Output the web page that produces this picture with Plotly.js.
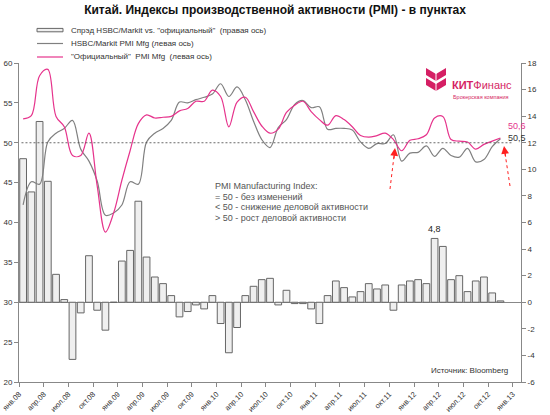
<!DOCTYPE html>
<html>
<head>
<meta charset="utf-8">
<script src="https://cdn.plot.ly/plotly-3.0.1.min.js"></script>
<style>html,body{margin:0;padding:0;background:#fff;}#chart{width:550px;height:415px;}</style>
</head>
<body>
<div id="chart"></div>
<script>
// ---- data (monthly, Jan 2008 .. Nov 2012) ----
const officialPMI = [
  53.0,53.4,58.4,59.2,53.3,52.0,48.4,48.4,51.2,44.6,38.8,41.2,
  45.3,49.0,52.4,53.5,53.1,53.2,53.3,54.0,54.3,55.2,55.2,56.6,
  55.8,52.0,55.1,55.7,53.9,52.1,51.2,51.7,53.8,54.7,55.2,53.9,
  52.9,52.2,53.4,52.9,52.0,50.9,50.7,50.9,51.2,50.4,49.0,50.3,
  50.5,51.0,53.1,53.3,50.4,50.2,50.1,49.2,49.8,50.2,50.6
];
const hsbcPMI = [
  42.2,45.1,44.8,50.1,51.2,51.8,52.8,49.2,47.7,45.2,40.9,41.2,
  42.2,45.1,44.8,50.1,51.2,51.8,52.8,55.1,55.0,55.4,55.7,56.1,
  57.4,55.8,57.0,55.4,52.7,50.4,49.4,51.9,52.9,54.8,55.3,54.4,
  54.5,51.7,51.8,51.8,51.6,50.1,49.3,49.9,49.9,51.0,47.7,48.7,
  48.8,49.6,48.3,49.3,48.4,48.2,49.3,47.6,47.9,49.5,50.5
];
const spread = [
  10.8,8.3,13.6,9.1,2.1,0.2,-4.3,-0.8,3.5,-0.6,-2.1,0.0,
  3.1,3.9,7.6,3.4,1.9,1.4,0.5,-1.1,-0.7,-0.2,-0.5,0.5,
  -1.6,-3.8,-1.9,0.5,1.2,1.7,1.8,-0.2,0.9,-0.1,-0.1,-0.5,
  -1.6,0.5,1.6,1.1,0.4,0.8,1.4,1.0,1.3,-0.6,1.3,1.6,
  1.7,1.4,4.8,4.2,1.7,2.0,0.8,1.6,1.9,0.7,0.1
];
const xTickLabels = [
  "янв.08","апр.08","июл.08","окт.08","янв.09","апр.09","июл.09","окт.09",
  "янв.10","апр.10","июл.10","окт.10","янв.11","апр.11","июл.11","окт.11",
  "янв.12","апр.12","июл.12","окт.12","янв.13"
];
const leftTicks = [20,25,30,35,40,45,50,55,60];
const rightTicks = [-6,-4,-2,0,2,4,6,8,10,12,14,16,18];
const legendNames = [
  'Спрэд HSBC/Markit vs. "официальный"  (правая ось)',
  'HSBC/Markit PMI Mfg (левая ось)',
  '"Официальный"  PMI Mfg  (левая ось)'
];
const noteLines = [
  "PMI Manufacturing Index:",
  "= 50 - без изменений",
  "< 50 - снижение деловой активности",
  "> 50 - рост деловой активности"
];
const threshold = 50;

// ---- styling / helpers ----
const FONT = "Liberation Sans, Arial, sans-serif";
const PINK = "#E6338C", GREY = "#808080", LOGO = "#D51F64";
const W = 550, H = 415, M = {l:19, r:29, t:63, b:33};
const fx = p => (p - M.l) / (W - M.l - M.r);
const fy = p => (H - M.b - p) / (H - M.t - M.b);
const fmt = v => v.toFixed(1).replace(".", ",");
const xs = officialPMI.map((_, i) => i + 0.5);
const last = officialPMI.length - 1;

const traces = [
  {type:"bar", x:xs, y:spread, yaxis:"y", width:0.82,
   marker:{color:"#EFEFEF", line:{color:"#666", width:1}}, showlegend:false, hoverinfo:"skip"},
  {type:"scatter", mode:"lines", x:xs, y:hsbcPMI, yaxis:"y2",
   line:{color:GREY, width:1.2, shape:"spline", smoothing:1}, showlegend:false},
  {type:"scatter", mode:"lines", x:xs, y:officialPMI, yaxis:"y2",
   line:{color:PINK, width:1.2, shape:"spline", smoothing:1}, showlegend:false}
];

const shapes = [
  {type:"line", xref:"x", yref:"y2", x0:0.3, x1:60, y0:threshold, y1:threshold,
   line:{color:"#444", width:0.8, dash:"2px,2px"}},
  // legend symbols
  {type:"rect", xref:"paper", yref:"paper", x0:fx(37), x1:fx(63), y0:fy(31.8), y1:fy(28.4),
   fillcolor:"#EFEFEF", line:{color:"#666", width:1}},
  {type:"line", xref:"paper", yref:"paper", x0:fx(37), x1:fx(63), y0:fy(43.5), y1:fy(43.5),
   line:{color:GREY, width:1.2}},
  {type:"line", xref:"paper", yref:"paper", x0:fx(37), x1:fx(63), y0:fy(57), y1:fy(57),
   line:{color:PINK, width:1.2}},
  // red dotted arrows
  {type:"line", xref:"paper", yref:"paper", x0:fx(390), y0:fy(189), x1:fx(394.5), y1:fy(152),
   line:{color:"#FF2020", width:1, dash:"dot"}},
  {type:"line", xref:"paper", yref:"paper", x0:fx(510), y0:fy(186), x1:fx(504.5), y1:fy(150),
   line:{color:"#FF2020", width:1, dash:"dot"}},
  // logo chevrons
  {type:"path", xref:"paper", yref:"paper", fillcolor:LOGO, line:{width:0},
   path:`M${fx(426)},${fy(68)} L${fx(436)},${fy(74)} L${fx(446)},${fy(68)} L${fx(446)},${fy(75)} L${fx(436)},${fy(81)} L${fx(426)},${fy(75)} Z`},
  {type:"path", xref:"paper", yref:"paper", fillcolor:LOGO, line:{width:0},
   path:`M${fx(426)},${fy(78)} L${fx(436)},${fy(84)} L${fx(446)},${fy(78)} L${fx(446)},${fy(85)} L${fx(436)},${fy(91)} L${fx(426)},${fy(85)} Z`},
  {type:"line", xref:"paper", yref:"paper", x0:fx(436), x1:fx(436), y0:fy(73), y1:fy(92),
   line:{color:"#fff", width:1}}
];

const annotations = [];
const legY = [30, 43.5, 57];
legendNames.forEach((t, i) => annotations.push({xref:"paper", yref:"paper", x:fx(69), y:fy(legY[i]),
  xanchor:"left", yanchor:"middle", text:t, showarrow:false, font:{family:FONT, size:8, color:"#333"}}));
const noteY = [186, 196.5, 207, 217.5];
noteLines.forEach((t, i) => annotations.push({xref:"paper", yref:"paper", x:fx(213), y:fy(noteY[i]),
  xanchor:"left", yanchor:"middle", text:t, showarrow:false, font:{family:FONT, size:9, color:"#555"}}));
// peak spread label
const lastYear = spread.slice(48);
const pk = 48 + lastYear.indexOf(Math.max(...lastYear));
annotations.push({xref:"x", yref:"y", x:xs[pk], y:spread[pk], yshift:9, text:fmt(spread[pk]),
  showarrow:false, font:{family:FONT, size:9, color:"#222"}});
// end values
annotations.push({xref:"x", yref:"y2", x:xs[last], y:officialPMI[last], xshift:6, yshift:12, xanchor:"left",
  text:fmt(officialPMI[last]), showarrow:false, font:{family:FONT, size:9, color:PINK}});
annotations.push({xref:"x", yref:"y2", x:xs[last], y:hsbcPMI[last], xshift:6, yshift:1, xanchor:"left",
  text:fmt(hsbcPMI[last]), showarrow:false, font:{family:FONT, size:9, color:"#333"}});
// arrowheads
[[395,148,-1.2,12],[504,146,1.8,12]].forEach(a => annotations.push({xref:"paper", yref:"paper",
  x:fx(a[0]), y:fy(a[1]), ax:a[2], ay:a[3], text:"", showarrow:true, arrowhead:2, arrowsize:1.3,
  arrowwidth:1.2, arrowcolor:"#FF2020", standoff:0}));
// logo text
annotations.push({xref:"paper", yref:"paper", x:fx(450), y:fy(85), xanchor:"left", yanchor:"middle",
  text:"<b>КИТ</b>Финанс", showarrow:false, font:{family:FONT, size:11, color:LOGO}});
annotations.push({xref:"paper", yref:"paper", x:fx(451), y:fy(97.5), xanchor:"left", yanchor:"middle",
  text:"Брокерская компания", showarrow:false, font:{family:FONT, size:5.5, color:LOGO}});
// source
annotations.push({xref:"paper", yref:"paper", x:fx(510), y:fy(370), xanchor:"right", yanchor:"middle",
  text:"Источник: Bloomberg", showarrow:false, font:{family:FONT, size:8, color:"#333"}});

const axisCommon = {showgrid:false, showline:true, linecolor:"#888", linewidth:1, ticks:"outside",
  ticklen:4, tickcolor:"#888", tickfont:{family:FONT, size:8, color:"#333"}};

const layout = {
  width:W, height:H, margin:M, paper_bgcolor:"#fff", plot_bgcolor:"#fff",
  showlegend:false, bargap:0,
  title:{text:"<b>Китай. Индексы производственной активности (PMI) - в пунктах</b>",
    font:{family:FONT, size:12, color:"#111"}, x:0.5, xref:"container", y:1-10/H, yref:"container", yanchor:"middle"},
  xaxis:Object.assign({}, axisCommon, {range:[0, 61], zeroline:false,
    tickvals:xTickLabels.map((_, i) => i * 3), ticktext:xTickLabels, tickangle:-45,
    tickfont:{family:FONT, size:7.5, color:"#333"}}),
  yaxis:Object.assign({}, axisCommon, {range:[-6, 18], side:"right",
    tickvals:rightTicks, ticktext:rightTicks.map(String),
    zeroline:true, zerolinecolor:"#888", zerolinewidth:1}),
  yaxis2:Object.assign({}, axisCommon, {range:[20, 60], side:"left", overlaying:"y",
    tickvals:leftTicks, ticktext:leftTicks.map(String), zeroline:false}),
  shapes:shapes, annotations:annotations
};

Plotly.newPlot("chart", traces, layout, {staticPlot:true, displayModeBar:false});
</script>
</body>
</html>
